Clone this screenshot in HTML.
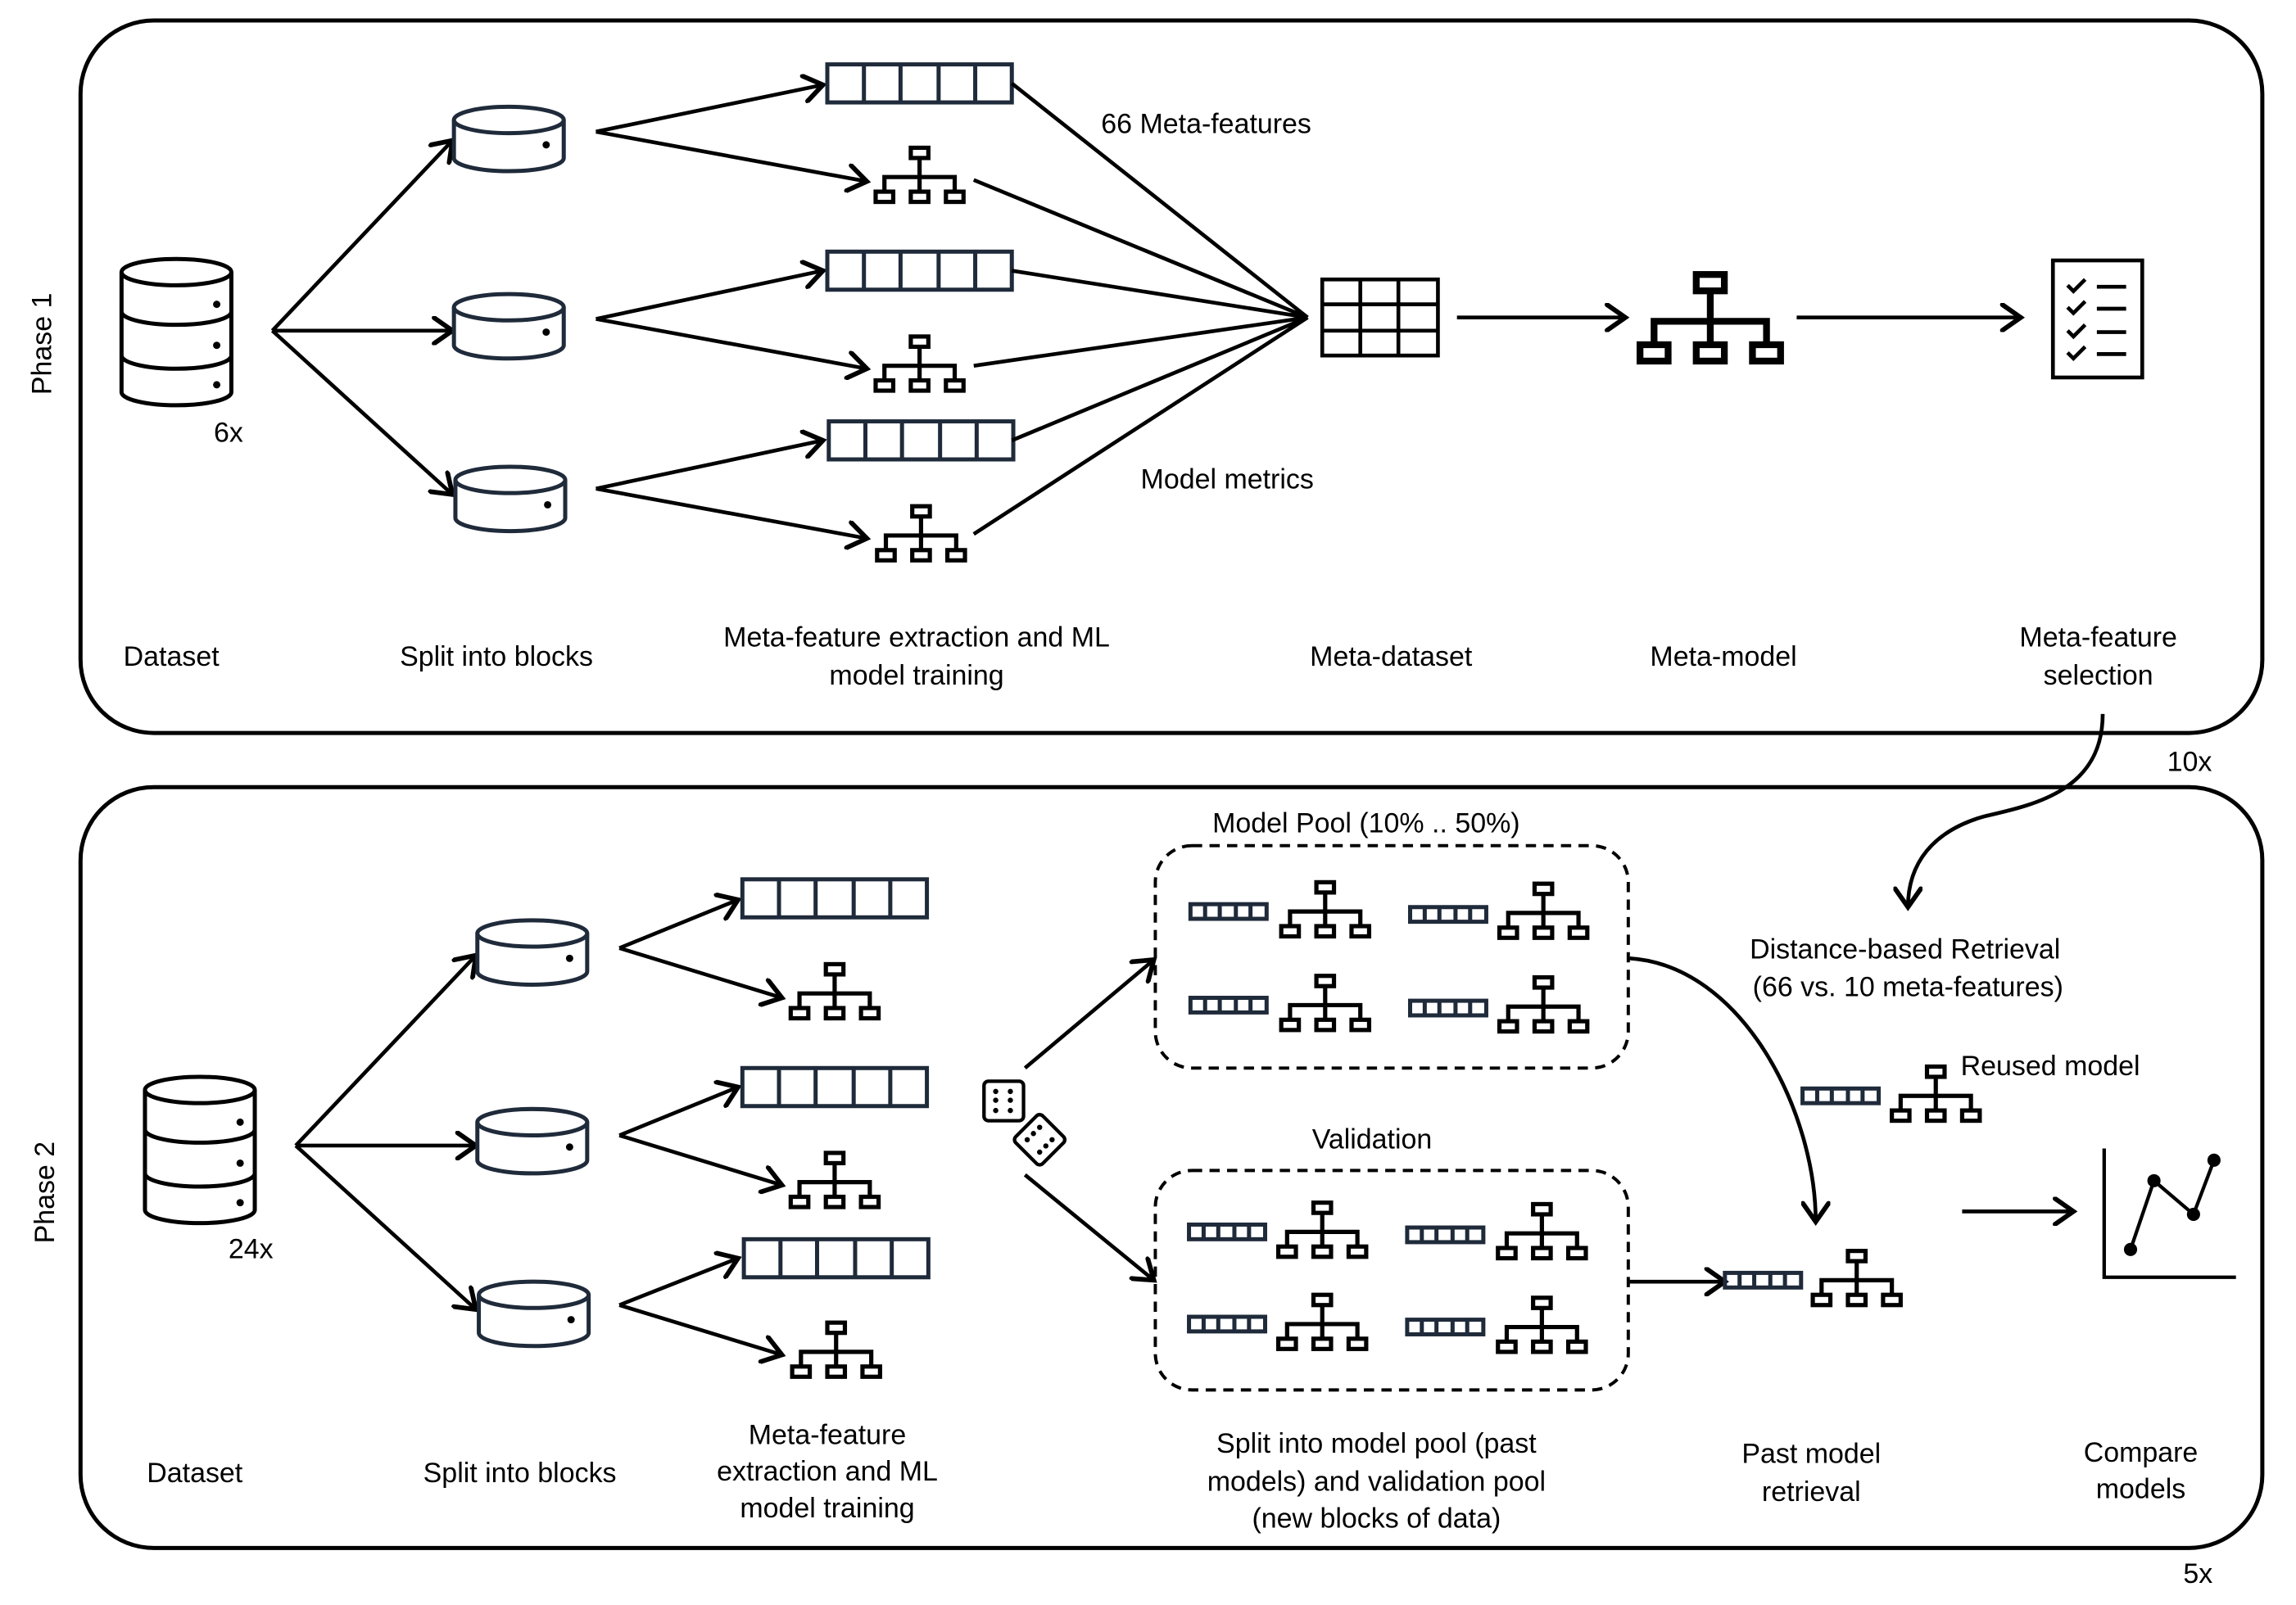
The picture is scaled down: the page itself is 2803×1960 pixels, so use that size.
<!DOCTYPE html>
<html><head><meta charset="utf-8"><style>
html,body{margin:0;padding:0;background:#fff;}
svg{display:block;}
text{font-family:"Liberation Sans",sans-serif;font-size:19px;fill:#000;}
</style></head><body>
<svg width="2803" height="1960" viewBox="0 0 1568 1097" preserveAspectRatio="none" xmlns="http://www.w3.org/2000/svg">
<defs>
<marker id="a" markerUnits="userSpaceOnUse" markerWidth="20" markerHeight="20" refX="12" refY="8" orient="auto" viewBox="0 0 16 16">
<path d="M2,1 L12,8 L2,15" fill="none" stroke="#000" stroke-width="2.6" stroke-linecap="round"/>
</marker>
<g id="tree" fill="none" stroke="#000" stroke-width="2.9">
<rect x="-6" y="1" width="12" height="7"/>
<path d="M0,8 V21 M-24,30 V21 H24 V30 M0,21 V30"/>
<rect x="-30" y="31" width="12" height="7"/><rect x="-6" y="31" width="12" height="7"/><rect x="18" y="31" width="12" height="7"/>
</g>
<g id="vec" fill="none" stroke="#1f2a3a" stroke-width="2.8">
<rect x="0" y="0" width="126" height="26"/>
<path d="M25,0V26M50,0V26M76,0V26M101,0V26"/>
</g>
<g id="mvec" fill="none" stroke="#1f2a3a" stroke-width="2.8">
<rect x="0" y="0" width="52" height="10"/>
<path d="M10,0V10M20,0V10M31,0V10M41,0V10"/>
</g>
<g id="cyl" fill="#fff" stroke="#1f2a3a" stroke-width="2.8">
<path d="M0,10 A37.5,9 0 0 1 75,10 V36 A37.5,9 0 0 1 0,36 Z"/>
<path d="M0,10 A37.5,9 0 0 0 75,10" fill="none"/>
<circle cx="63" cy="27" r="2.5" fill="#000" stroke="none"/>
</g>
<g id="db" fill="#fff" stroke="#000" stroke-width="2.8">
<path d="M0,67 V92 A37.5,9 0 0 0 75,92 V67"/>
<path d="M0,37 V67 A37.5,9 0 0 0 75,67 V37"/>
<path d="M0,10 A37.5,9 0 0 1 75,10 V37 A37.5,9 0 0 1 0,37 Z"/>
<path d="M0,10 A37.5,9 0 0 0 75,10" fill="none"/>
<circle cx="65" cy="32" r="2.5" fill="#000" stroke="none"/>
<circle cx="65" cy="60" r="2.5" fill="#000" stroke="none"/>
<circle cx="65" cy="87" r="2.5" fill="#000" stroke="none"/>
</g>
</defs>

<g fill="none" stroke="#000" stroke-width="2.8">
<rect x="55" y="14" width="1490" height="487" rx="50"/>
<rect x="55" y="538" width="1490" height="520" rx="50"/>
</g>
<text transform="translate(35,235) rotate(-90)" text-anchor="middle">Phase 1</text>
<text transform="translate(37,815) rotate(-90)" text-anchor="middle">Phase 2</text>

<use href="#db" x="83" y="176"/>
<text x="146" y="302">6x</text>
<g fill="none" stroke="#000" stroke-width="2.6" marker-end="url(#a)">
<path d="M186,226 L309,96"/><path d="M186,226 L309,226"/><path d="M186,226 L309,338"/>
<path d="M407,90 L562,58"/><path d="M407,90 L592,124"/>
<path d="M407,218 L562,185"/><path d="M407,218 L592,252"/>
<path d="M407,334 L562,301"/><path d="M407,334 L592,368"/>
<path d="M995,217 L1110,217"/><path d="M1227,217 L1380,217"/>
</g>
<use href="#cyl" x="310" y="72"/><use href="#cyl" x="310" y="200"/><use href="#cyl" x="311" y="318"/>
<use href="#vec" x="565" y="44"/><use href="#vec" x="565" y="172"/><use href="#vec" x="566" y="288"/>
<use href="#tree" x="628" y="100"/><use href="#tree" x="628" y="229"/><use href="#tree" x="629" y="345"/>
<g fill="none" stroke="#000" stroke-width="2.6">
<path d="M691,57 L893,217 M665,123 L893,217 M691,185 L893,217 M665,250 L893,217 M691,301 L893,217 M665,365 L893,217"/>
<rect x="903" y="191" width="79" height="52"/>
<path d="M929,191V243 M955,191V243 M903,208H982 M903,226H982"/>
<rect x="1402" y="178" width="61" height="80"/>
<path d="M1412,195 l4,4 l8,-8 M1412,210 l4,4 l8,-8 M1412,226 l4,4 l8,-8 M1412,241 l4,4 l8,-8 M1432,196H1452 M1432,211H1452 M1432,227H1452 M1432,242H1452"/>
</g>
<g transform="translate(1168,186) scale(1.6)"><use href="#tree"/></g>
<text x="752" y="91">66 Meta-features</text>
<text x="779" y="334">Model metrics</text>
<g text-anchor="middle">
<text x="117" y="455">Dataset</text>
<text x="339" y="455">Split into blocks</text>
<text x="626" y="442">Meta-feature extraction and ML</text>
<text x="626" y="468">model training</text>
<text x="950" y="455">Meta-dataset</text>
<text x="1177" y="455">Meta-model</text>
<text x="1433" y="442">Meta-feature</text>
<text x="1433" y="468">selection</text>
</g>
<text x="1480" y="527">10x</text>
<path d="M1436,488 C1436,540 1390,550 1355,558 C1320,568 1303,590 1303,620" fill="none" stroke="#000" stroke-width="2.6" marker-end="url(#a)"/>

<use href="#db" x="99" y="735"/>
<text x="156" y="860">24x</text>
<g fill="none" stroke="#000" stroke-width="2.6" marker-end="url(#a)">
<path d="M202,783 L325,653"/><path d="M202,783 L325,783"/><path d="M202,783 L325,895"/>
<path d="M423,648 L504,615"/><path d="M423,648 L534,682"/>
<path d="M423,776 L504,743"/><path d="M423,776 L534,810"/>
<path d="M423,892 L504,860"/><path d="M423,892 L534,926"/>
<path d="M700,730 L788,656"/><path d="M700,803 L788,875"/>
<path d="M1113,876 L1178,876"/>
<path d="M1113,655 C1190,660 1240,760 1240,835"/>
<path d="M1340,828 L1416,828"/>
</g>
<use href="#cyl" x="326" y="628"/><use href="#cyl" x="326" y="757"/><use href="#cyl" x="327" y="875"/>
<use href="#vec" x="507" y="601"/><use href="#vec" x="507" y="730"/><use href="#vec" x="508" y="847"/>
<use href="#tree" x="570" y="658"/><use href="#tree" x="570" y="787"/><use href="#tree" x="571" y="903"/>
<g fill="none" stroke="#000" stroke-width="2.2" stroke-dasharray="7,5">
<rect x="789" y="578" width="323" height="152" rx="25"/>
<rect x="789" y="800" width="323" height="150" rx="25"/>
</g>
<use href="#mvec" x="813" y="618"/><use href="#tree" x="905" y="602"/>
<use href="#mvec" x="963" y="620"/><use href="#tree" x="1054" y="603"/>
<use href="#mvec" x="813" y="682"/><use href="#tree" x="905" y="666"/>
<use href="#mvec" x="963" y="684"/><use href="#tree" x="1054" y="667"/>
<use href="#mvec" x="812" y="837"/><use href="#tree" x="903" y="821"/>
<use href="#mvec" x="961" y="839"/><use href="#tree" x="1053" y="822"/>
<use href="#mvec" x="812" y="900"/><use href="#tree" x="903" y="884"/>
<use href="#mvec" x="961" y="902"/><use href="#tree" x="1053" y="886"/>
<use href="#mvec" x="1178" y="870"/><use href="#tree" x="1268" y="854"/>
<use href="#mvec" x="1231" y="744"/><use href="#tree" x="1322" y="728"/>
<g fill="none" stroke="#000" stroke-width="2.4">
<rect x="672" y="739" width="27" height="27" rx="3"/>
<rect x="697" y="766" width="26" height="26" rx="3" transform="rotate(45 710 779)"/>
<path d="M1437,785 V873 H1527"/>
<path d="M1455,854 L1471,807 L1498,830 L1512,793"/>
</g>
<g fill="#000">
<circle cx="680" cy="746" r="1.8"/><circle cx="690" cy="746" r="1.8"/><circle cx="680" cy="752" r="1.8"/><circle cx="690" cy="752" r="1.8"/><circle cx="680" cy="759" r="1.8"/><circle cx="690" cy="759" r="1.8"/>
<g transform="rotate(45 710 779)"><circle cx="704" cy="773" r="1.8"/><circle cx="716" cy="773" r="1.8"/><circle cx="704" cy="779" r="1.8"/><circle cx="716" cy="779" r="1.8"/><circle cx="704" cy="785" r="1.8"/><circle cx="716" cy="785" r="1.8"/></g>
<circle cx="1455" cy="854" r="4.5"/><circle cx="1471" cy="807" r="4.5"/><circle cx="1498" cy="830" r="4.5"/><circle cx="1512" cy="793" r="4.5"/>
</g>
<g text-anchor="middle">
<text x="933" y="569">Model Pool (10% .. 50%)</text>
<text x="937" y="785">Validation</text>
<text x="1301" y="655">Distance-based Retrieval</text>
<text x="1303" y="681">(66 vs. 10 meta-features)</text>
<text x="133" y="1013">Dataset</text>
<text x="355" y="1013">Split into blocks</text>
<text x="565" y="987">Meta-feature</text>
<text x="565" y="1012">extraction and ML</text>
<text x="565" y="1037">model training</text>
<text x="940" y="993">Split into model pool (past</text>
<text x="940" y="1019">models) and validation pool</text>
<text x="940" y="1044">(new blocks of data)</text>
<text x="1237" y="1000">Past model</text>
<text x="1237" y="1026">retrieval</text>
<text x="1462" y="999">Compare</text>
<text x="1462" y="1024">models</text>
</g>
<text x="1339" y="735">Reused model</text>
<text x="1491" y="1082">5x</text>
</svg>
</body></html>
